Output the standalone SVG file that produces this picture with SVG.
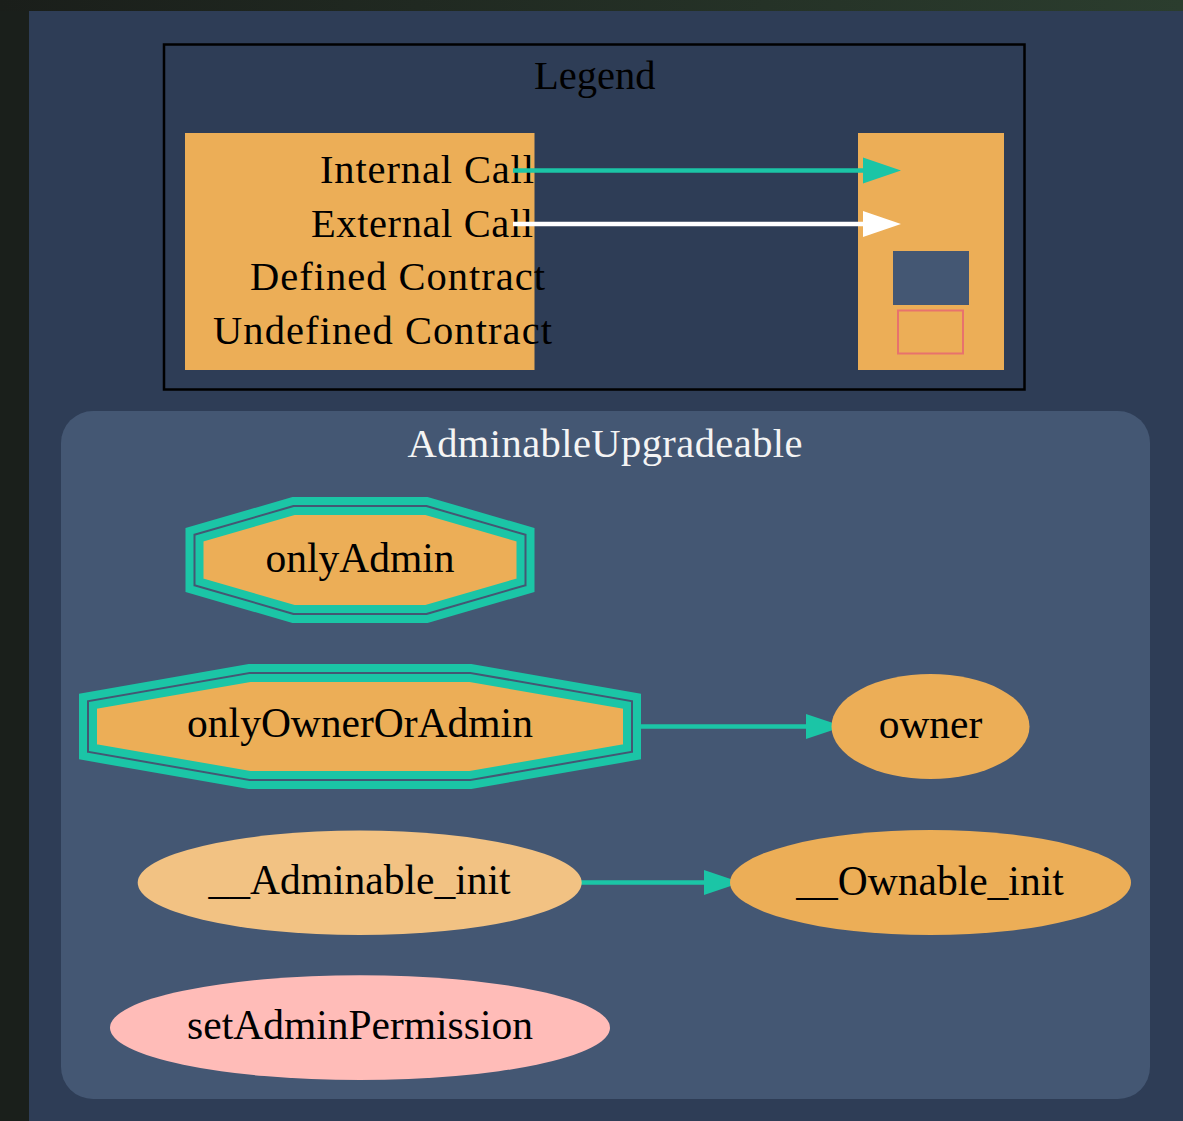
<svg xmlns="http://www.w3.org/2000/svg" width="1183" height="1121" viewBox="0 0 1183 1121">
<defs>
<linearGradient id="bgGrad" x1="0" y1="0" x2="1" y2="0">
<stop offset="0" stop-color="#1a1e1a"/>
<stop offset="1" stop-color="#2b3d2e"/>
</linearGradient>
<style>
.t{font-family:"Liberation Serif","Times New Roman",serif;font-size:40.5px;fill:#000}
.n{font-size:41.5px}
.oct{fill:none;stroke:#1bc5a6;stroke-width:8;stroke-linejoin:miter}
.fn{fill:#ecae57}
.edge{stroke:#1bc5a6;stroke-width:4.5;fill:none}
.ah{fill:#1bc5a6}
</style>
</defs>
<rect x="0" y="0" width="1183" height="1121" fill="#1a1f1b"/>
<rect x="0" y="0" width="1183" height="11" fill="url(#bgGrad)"/>
<rect x="29" y="11" width="1154" height="1110" fill="#2e3d56"/>

<g id="legend">
<rect x="164" y="44.5" width="860.5" height="345" fill="none" stroke="#000" stroke-width="2.5"/>
<text class="t" x="534" y="89">Legend</text>
<rect x="185" y="133" width="349.5" height="237" fill="#ecae57"/>
<rect x="858" y="133" width="146" height="237" fill="#ecae57"/>
<text class="t" x="320" y="183" textLength="214" lengthAdjust="spacing">Internal Call</text>
<text class="t" x="311" y="237" textLength="222" lengthAdjust="spacing">External Call</text>
<text class="t" x="250" y="289.5" textLength="295" lengthAdjust="spacing">Defined Contract</text>
<text class="t" x="213" y="343.5" textLength="339" lengthAdjust="spacing">Undefined Contract</text>
<line x1="513" y1="170.5" x2="866" y2="170.5" stroke="#1bc5a6" stroke-width="4.5"/>
<polygon points="863,157.5 901,170.5 863,183.5" fill="#1bc5a6"/>
<line x1="513" y1="224" x2="866" y2="224" stroke="#ffffff" stroke-width="4.5"/>
<polygon points="863,211 901,224 863,237" fill="#ffffff"/>
<rect x="893" y="251" width="76" height="54" fill="#445773"/>
<rect x="898" y="310.5" width="65" height="43" fill="none" stroke="#e8726d" stroke-width="2"/>
</g>

<g id="cluster_AdminableUpgradeable">
<rect x="61" y="411" width="1089" height="688" rx="32" ry="32" fill="#445773"/>
<text class="t" x="605" y="456.5" text-anchor="middle" style="fill:#f4f4f4" textLength="395" lengthAdjust="spacing">AdminableUpgradeable</text>
</g>

<g id="connectors">
<path class="edge" d="M637,726.5 L810,726.5"/>
<polygon class="ah" points="806,714 843.5,726.5 806,739"/>
<path class="edge" d="M581,882.5 L708,882.5"/>
<polygon class="ah" points="704,870 741,882.5 704,895"/>
</g>

<g id="node_onlyAdmin">
<polygon class="fn" points="294.4,511 425.6,511 520.5,538.5 520.5,581.5 425.6,609 294.4,609 199.5,581.5 199.5,538.5"/>
<polygon class="oct" points="293,501 427,501 530.5,531 530.5,589 427,619 293,619 189.5,589 189.5,531"/>
<polygon class="oct" points="294.4,511 425.6,511 520.5,538.5 520.5,581.5 425.6,609 294.4,609 199.5,581.5 199.5,538.5"/>
<text class="t n" x="360" y="571.5" text-anchor="middle">onlyAdmin</text>
</g>

<g id="node_onlyOwnerOrAdmin">
<polygon class="fn" points="249.8,678 470.2,678 627,705.4 627,747.6 470.2,775 249.8,775 93,747.6 93,705.4"/>
<polygon class="oct" points="249,668 471,668 637,697 637,756 471,785 249,785 83,756 83,697"/>
<polygon class="oct" points="249.8,678 470.2,678 627,705.4 627,747.6 470.2,775 249.8,775 93,747.6 93,705.4"/>
<text class="t n" x="360" y="737" text-anchor="middle">onlyOwnerOrAdmin</text>
</g>

<g id="node_owner">
<ellipse class="fn" cx="930.5" cy="726.5" rx="99" ry="52.5"/>
<text class="t n" x="930.5" y="737.5" text-anchor="middle">owner</text>
</g>

<g id="node_Adminable_init">
<ellipse cx="359.7" cy="882.8" rx="222" ry="52.2" fill="#f2c283"/>
<text class="t n" x="359.5" y="893.5" text-anchor="middle">__Adminable_init</text>
</g>

<g id="node_Ownable_init">
<ellipse class="fn" cx="930.5" cy="882.5" rx="200.5" ry="52.5"/>
<text class="t n" x="930" y="895" text-anchor="middle">__Ownable_init</text>
</g>

<g id="node_setAdminPermission">
<ellipse cx="360" cy="1027.7" rx="250" ry="52.4" fill="#ffbcb8"/>
<text class="t n" x="360" y="1039" text-anchor="middle">setAdminPermission</text>
</g>
</svg>
